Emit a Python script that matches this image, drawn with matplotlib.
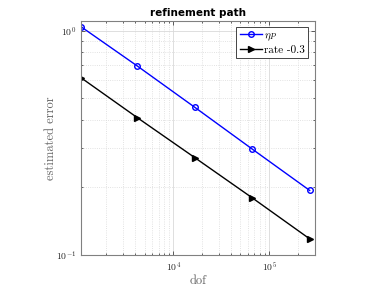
import matplotlib
matplotlib.use("Agg")
import matplotlib.pyplot as plt
from matplotlib.ticker import LogLocator, NullFormatter, FixedLocator, FixedFormatter

plt.rcParams["mathtext.fontset"] = "cm"

# data
dof = [1089, 4225, 16641, 66049, 263169]
eta = [1.042, 0.695, 0.456, 0.297, 0.194]
rate = [0.617, 0.409, 0.272, 0.180, 0.118]

fig = plt.figure(figsize=(3.82, 2.87), dpi=100)
ax = fig.add_axes([0.212, 0.1115, 0.613, 0.817])

ax.loglog(dof, eta, "-o", color="#0000ff", lw=1, ms=4, mfc="none", mew=1,
          label=r"$\eta_P$")
ax.loglog(dof, rate, "->", color="black", lw=1, ms=4.8, label="rate -0.3")

ax.set_xlim(1089, 3.0e5)
ax.set_ylim(0.1, 1.11)

axis_col = "#262626"
ax.grid(True, which="major", color="#d9d9d9", lw=0.6, ls="-")
ax.grid(True, which="minor", color="#d9d9d9", lw=0.6, ls=":")
ax.set_axisbelow(True)

ax.xaxis.set_major_locator(FixedLocator([1e4, 1e5]))
ax.xaxis.set_major_formatter(FixedFormatter([r"$\mathsf{10^{4}}$", r"$\mathsf{10^{5}}$"]))
ax.xaxis.set_minor_locator(LogLocator(base=10, subs=range(2, 10)))
ax.xaxis.set_minor_formatter(NullFormatter())
ax.yaxis.set_major_locator(FixedLocator([0.1, 1.0]))
ax.yaxis.set_major_formatter(FixedFormatter([r"$\mathsf{10^{-1}}$", r"$\mathsf{10^{0}}$"]))
ax.yaxis.set_minor_locator(LogLocator(base=10, subs=range(2, 10)))
ax.yaxis.set_minor_formatter(NullFormatter())

ax.tick_params(which="both", direction="in", top=True, right=True,
               colors=axis_col, labelsize=7, width=0.5)
ax.tick_params(which="major", length=3)
ax.tick_params(which="minor", length=1.5)
for s in ax.spines.values():
    s.set_color("#808080")
    s.set_linewidth(0.8)

ax.set_title("refinement path", fontsize=7.5, fontweight="bold", color="black", pad=3)
ax.set_xlabel("dof", family="cmr10", fontsize=9, color="#666666", labelpad=1)
ax.set_ylabel("estimated error", family="cmr10", fontsize=9, color="#666666", labelpad=-1)

leg = ax.legend(loc="upper right", prop={"family": "cmr10", "size": 8},
                fancybox=False, edgecolor="#262626", framealpha=1,
                handlelength=2.0, handletextpad=0.2, borderpad=0.3,
                labelspacing=0.2, borderaxespad=0.6)
leg.get_frame().set_linewidth(0.6)

fig.savefig("out.png", dpi=100)
